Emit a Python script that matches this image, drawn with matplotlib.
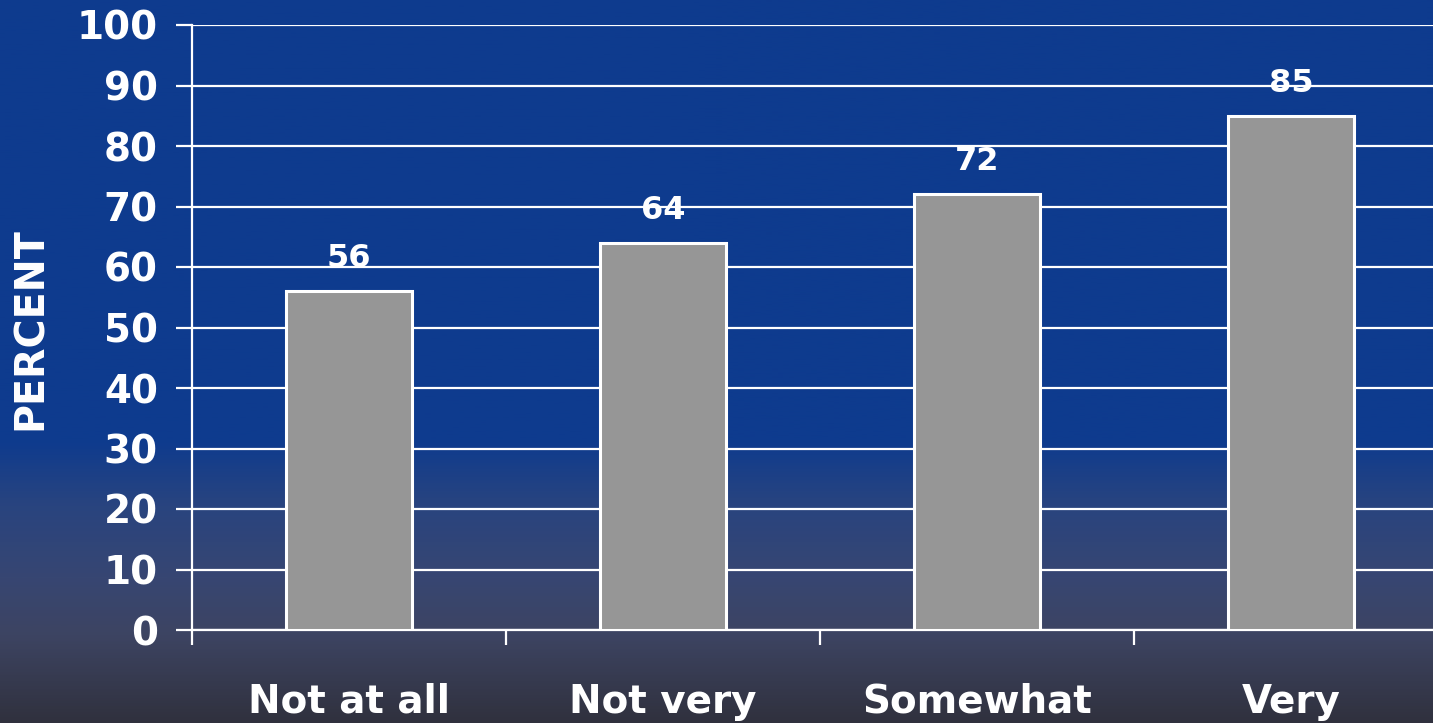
import matplotlib
matplotlib.use("Agg")
import matplotlib.pyplot as plt
import numpy as np
from matplotlib.colors import LinearSegmentedColormap

categories = ["Not at all", "Not very", "Somewhat", "Very"]
percent = [56, 64, 72, 85]
y_ticks = list(range(0, 101, 10))

BAR_GREY = "#969696"
WHITE = "white"

plt.rcParams["font.family"] = "DejaVu Sans"
plt.rcParams["font.weight"] = "bold"

fig = plt.figure(figsize=(14.33, 7.23), dpi=100)

# backdrop: flat blue on top, fading to slate grey at the bottom
bg = fig.add_axes([0, 0, 1, 1], zorder=-10)
bg_cmap = LinearSegmentedColormap.from_list(
    "backdrop",
    [(0.0, "#0E3B8E"), (0.61, "#0E3B8E"), (0.70, "#29447F"),
     (0.80, "#374672"), (0.88, "#3D4462"), (1.0, "#30313E")],
)
bg.imshow(np.linspace(0, 1, 512).reshape(-1, 1), aspect="auto",
          cmap=bg_cmap, extent=[0, 1, 0, 1])
bg.axis("off")

ax = fig.add_axes([192 / 1433, 93 / 723, 1256 / 1433, 605 / 723])
ax.patch.set_alpha(0)

x = np.arange(len(categories))
ax.bar(x, percent, width=0.4, color=BAR_GREY, edgecolor=WHITE,
       linewidth=2.2, zorder=3)

for xi, v in zip(x, percent):
    ax.annotate(f"{v}", (xi, v), xytext=(0, 23.5), textcoords="offset points",
                ha="center", va="center", color=WHITE, fontsize=23,
                fontweight="bold", zorder=4)

ax.set_xlim(-0.5, len(categories) - 0.5)
ax.set_ylim(0, 100)
ax.set_yticks(y_ticks)
ax.yaxis.grid(True, color=WHITE, linewidth=1.6, zorder=1)
ax.set_axisbelow(True)

ax.tick_params(axis="y", colors=WHITE, direction="out", length=11.5,
               width=1.6, pad=13, labelsize=28)

# category names sit under the bars; ticks mark the category boundaries
ax.set_xticks(x)
ax.set_xticklabels(categories)
ax.set_xticks(np.arange(len(categories)) - 0.5, minor=True)
ax.tick_params(axis="x", which="major", length=0, pad=38,
               colors=WHITE, labelsize=28)
ax.tick_params(axis="x", which="minor", direction="out", length=11,
               width=1.6, colors=WHITE)

for side in ["top", "right"]:
    ax.spines[side].set_visible(False)
for side in ["left", "bottom"]:
    ax.spines[side].set_color(WHITE)
    ax.spines[side].set_linewidth(1.6)

fig.text(31 / 1433, 0.545, "PERCENT", rotation=90, ha="center", va="center",
         color=WHITE, fontsize=28.5, fontweight="bold")

fig.savefig("out.png", dpi=100)
